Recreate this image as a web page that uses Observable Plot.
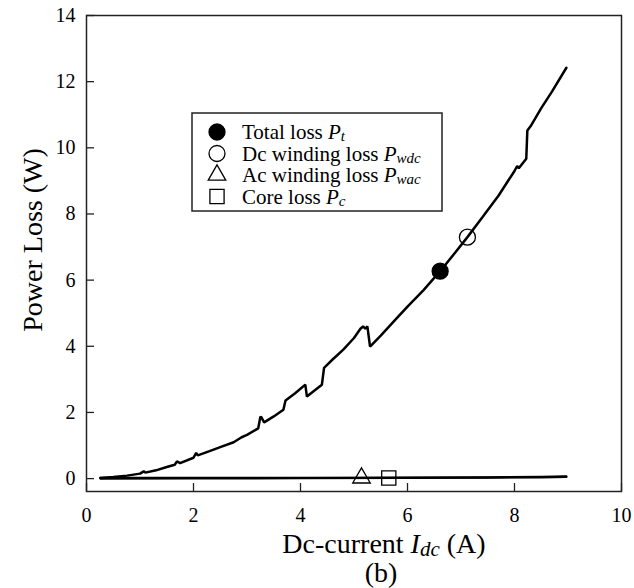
<!DOCTYPE html>
<html>
<head>
<meta charset="utf-8">
<script src="https://cdn.jsdelivr.net/npm/d3@7"></script>
<script src="https://cdn.jsdelivr.net/npm/@observablehq/plot@0.6"></script>
<style>
  html, body { margin: 0; padding: 0; background: white; }
  svg { display: block; }
</style>
</head>
<body>
<div id="chart"></div>
<script>
// Total loss Pt versus dc current Idc
const idc = [0.26, 0.5, 0.76, 1.0, 1.07, 1.1, 1.3, 1.5, 1.65, 1.69, 1.75, 2.0, 2.05, 2.08, 2.3, 2.5, 2.75, 2.9, 3.0, 3.21, 3.25, 3.27, 3.32, 3.5, 3.68, 3.72, 3.9, 4.09, 4.12, 4.25, 4.40, 4.44, 4.6, 4.8, 5.0, 5.12, 5.17, 5.21, 5.25, 5.30, 5.5, 5.8, 6.0, 6.3, 6.61, 6.9, 7.12, 7.4, 7.7, 8.0, 8.05, 8.08, 8.22, 8.24, 8.3, 8.5, 8.7, 8.97];
const totalLoss = [0.02, 0.05, 0.09, 0.15, 0.22, 0.18, 0.25, 0.35, 0.42, 0.52, 0.47, 0.63, 0.78, 0.70, 0.83, 0.95, 1.10, 1.25, 1.32, 1.52, 1.87, 1.85, 1.70, 1.88, 2.08, 2.36, 2.58, 2.84, 2.48, 2.65, 2.84, 3.35, 3.60, 3.90, 4.25, 4.53, 4.60, 4.53, 4.60, 3.99, 4.32, 4.85, 5.20, 5.70, 6.27, 6.85, 7.30, 7.90, 8.55, 9.30, 9.45, 9.38, 9.67, 10.52, 10.65, 11.20, 11.70, 12.42];

// Ac winding loss and core loss (near zero)
const idcLow = [0.26, 2.0, 4.0, 6.0, 7.5, 8.5, 8.97];
const acWindingLoss = [0.0, 0.005, 0.01, 0.02, 0.03, 0.04, 0.05];
const coreLoss = [0.02, 0.02, 0.025, 0.03, 0.04, 0.05, 0.07];

// Marker positions (legend symbols placed on the curves)
const markerNames = ["Total loss", "Dc winding loss", "Ac winding loss", "Core loss"];
const markerX = [6.61, 7.12, 5.14, 5.65];
const markerY = [6.27, 7.30, 0.02, 0.02];
const markerSymbol = ["circle", "circle", "triangle", "square"];
const markerFill = ["black", "none", "none", "none"];

const xTicks = [0, 2, 4, 6, 8, 10];
const yTicks = [0, 2, 4, 6, 8, 10, 12, 14];

const ptData = idc.map((x, i) => ({x, y: totalLoss[i]}));
const lowData = idcLow.map((x, i) => ({x, ac: acWindingLoss[i], core: coreLoss[i]}));
const markers = markerNames.map((n, i) => ({n, x: markerX[i], y: markerY[i], s: markerSymbol[i], f: markerFill[i]}));

const W = 634, H = 588;
const mL = 86, mR = 13, mT = 15, mB = 97;
const xDomain = [0, 10], yDomain = [-0.39, 14];
const pxPerX = (W - mL - mR) / (xDomain[1] - xDomain[0]);
const pxPerY = (H - mT - mB) / (yDomain[1] - yDomain[0]);
const tickLen = 8;

const serif = "'Liberation Serif', 'Times New Roman', serif";

const chart = Plot.plot({
  width: W, height: H,
  marginLeft: mL, marginRight: mR, marginTop: mT, marginBottom: mB,
  x: {domain: xDomain},
  y: {domain: yDomain},
  style: {fontFamily: serif, fontSize: "20px", background: "white", color: "black"},
  marks: [
    Plot.frame({stroke: "#222", strokeWidth: 1.5}),
    Plot.axisX({ticks: xTicks, tickSize: 0, tickPadding: 16, fontSize: 20, label: null}),
    Plot.axisY({ticks: yTicks, tickSize: 0, tickPadding: 11, fontSize: 20, label: null}),
    Plot.ruleY(yTicks, {y: d => d, x1: xDomain[0], x2: xDomain[0] + tickLen / pxPerX, stroke: "#222", strokeWidth: 1.3}),
    Plot.ruleX(xTicks, {x: d => d, y1: yDomain[0], y2: yDomain[0] + tickLen / pxPerY, stroke: "#222", strokeWidth: 1.3}),
    Plot.line(lowData, {x: "x", y: "ac", stroke: "black", strokeWidth: 2.2}),
    Plot.line(lowData, {x: "x", y: "core", stroke: "black", strokeWidth: 2.2}),
    Plot.line(ptData, {x: "x", y: "y", stroke: "black", strokeWidth: 2.5, strokeLinejoin: "miter"}),
    Plot.dot(markers.filter(d => d.s === "circle"), {x: "x", y: "y", r: 8, fill: "f", stroke: "black", strokeWidth: 1.3}),
    Plot.dot(markers.filter(d => d.s === "triangle"), {x: "x", y: "y", r: 6.5, symbol: "triangle", fill: "none", stroke: "black", strokeWidth: 1.3}),
    Plot.dot(markers.filter(d => d.s === "square"), {x: "x", y: "y", r: 8, symbol: "square", fill: "none", stroke: "black", strokeWidth: 1.3})
  ]
});

const svg = d3.select(chart);

// Y axis title
svg.append("text")
  .attr("transform", `translate(42,240) rotate(-90)`)
  .attr("text-anchor", "middle")
  .attr("font-family", serif).attr("font-size", 28).attr("fill", "black")
  .text("Power Loss (W)");

// X axis title with subscript
const xt = svg.append("text")
  .attr("x", 384).attr("y", 553)
  .attr("text-anchor", "middle")
  .attr("font-family", serif).attr("font-size", 28).attr("fill", "black");
xt.append("tspan").text("Dc-current ");
xt.append("tspan").attr("font-style", "italic").text("I");
xt.append("tspan").attr("font-style", "italic").attr("font-size", 21).attr("dy", 3).text("dc");
xt.append("tspan").attr("dy", -3).text(" (A)");

svg.append("text")
  .attr("x", 381).attr("y", 582)
  .attr("text-anchor", "middle")
  .attr("font-family", serif).attr("font-size", 28).attr("fill", "black")
  .text("(b)");

// Legend
const lg = svg.append("g");
lg.append("rect").attr("x", 192).attr("y", 113).attr("width", 250).attr("height", 98)
  .attr("fill", "white").attr("stroke", "#222").attr("stroke-width", 1.5);
const legendItems = [
  {label: "Total loss ", sub: "t", sym: d3.symbolCircle, fill: "black"},
  {label: "Dc winding loss ", sub: "wdc", sym: d3.symbolCircle, fill: "none"},
  {label: "Ac winding loss ", sub: "wac", sym: d3.symbolTriangle, fill: "none"},
  {label: "Core loss ", sub: "c", sym: d3.symbolSquare, fill: "none"}
];
const symSize = [Math.PI * 64, Math.PI * 64, Math.PI * 6.5 * 6.5, Math.PI * 64];
legendItems.forEach((it, i) => {
  const cy = 132 + i * 21.5;
  lg.append("path")
    .attr("d", d3.symbol(it.sym, symSize[i])())
    .attr("transform", `translate(217,${cy})`)
    .attr("fill", it.fill).attr("stroke", "black").attr("stroke-width", 1.3);
  const t = lg.append("text")
    .attr("x", 242).attr("y", cy + 7)
    .attr("text-anchor", "start")
    .attr("font-family", serif).attr("font-size", 21).attr("fill", "black");
  t.append("tspan").text(it.label);
  t.append("tspan").attr("font-style", "italic").text("P");
  t.append("tspan").attr("font-style", "italic").attr("font-size", 15).attr("dy", 2).text(it.sub);
});

document.getElementById("chart").appendChild(chart);
</script>
</body>
</html>
